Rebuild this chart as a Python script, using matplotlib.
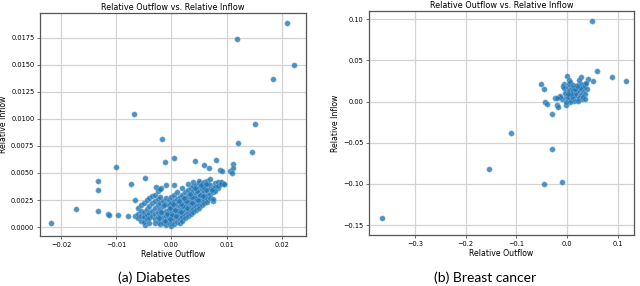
import matplotlib
matplotlib.use("Agg")
import matplotlib.pyplot as plt

# ---------------- Diabetes data (relative outflow, relative inflow) ----------------
diab_outliers_x = [0.0210, 0.0119, 0.0223, 0.0184, -0.0067, 0.0151, -0.0017, 0.0121, 0.0146,
                   0.0004, -0.0012, -0.0100, 0.0043, 0.0081, 0.0059, 0.0068, 0.0088, 0.0091,
                   0.0107, 0.0112, 0.0111, 0.0110, -0.0133, -0.0133, -0.0048, -0.0073,
                   -0.0133, -0.0173, -0.0218, -0.0114, -0.0113, -0.0097, -0.0079, -0.0066,
                   -0.0065, -0.0048, -0.0048, -0.0010, 0.0004, -0.0027, -0.0019, 0.0092, 0.0096,
                   0.0075, 0.0084]
diab_outliers_y = [0.0189, 0.0174, 0.0150, 0.0137, 0.0105, 0.0095, 0.0081, 0.0078, 0.0069,
                   0.0064, 0.0060, 0.0056, 0.0061, 0.0062, 0.0057, 0.0055, 0.0053, 0.0052,
                   0.0052, 0.0058, 0.0055, 0.0050, 0.0043, 0.0034, 0.0045, 0.0040,
                   0.0015, 0.0017, 0.0004, 0.0012, 0.0011, 0.0011, 0.0010, 0.0025,
                   0.0010, 0.0010, 0.0002, 0.0039, 0.0039, 0.0037, 0.0036, 0.0041, 0.0040,
                   0.0024, 0.0036]

diab_cluster_x = (
    [-0.0060] * 3 + [-0.0055] * 4 + [-0.0050] * 4 + [-0.0045] * 4 + [-0.0040] * 5 +
    [-0.0035] * 4 + [-0.0030] * 6 + [-0.0025] * 6 + [-0.0020] * 7 + [-0.0015] * 5 +
    [-0.0010] * 6 + [-0.0005] * 6 + [0.0000] * 7 + [0.0005] * 7 + [0.0010] * 7 +
    [0.0015] * 7 + [0.0020] * 8 + [0.0025] * 7 + [0.0030] * 8 + [0.0035] * 7 +
    [0.0040] * 8 + [0.0045] * 7 + [0.0050] * 8 + [0.0055] * 6 + [0.0060] * 6 +
    [0.0065] * 6 + [0.0070] * 5 + [0.0075] * 3 + [0.0080] * 3 + [0.0085] * 2 +
    [0.0090] * 2 + [0.0095] * 1
)
diab_cluster_y = [
    0.0012, 0.0008, 0.0018,
    0.0015, 0.0006, 0.0010, 0.0020,
    0.0022, 0.0009, 0.0005, 0.0014,
    0.0025, 0.0011, 0.0017, 0.0007,
    0.0027, 0.0019, 0.0013, 0.0008, 0.0004,
    0.0029, 0.0022, 0.0015, 0.0010,
    0.0030, 0.0024, 0.0018, 0.0012, 0.0007, 0.0004,
    0.0033, 0.0026, 0.0020, 0.0014, 0.0009, 0.0005,
    0.0035, 0.0028, 0.0022, 0.0017, 0.0011, 0.0006, 0.0003,
    0.0024, 0.0019, 0.0013, 0.0008, 0.0004,
    0.0027, 0.0021, 0.0015, 0.0010, 0.0006, 0.0002,
    0.0025, 0.0020, 0.0016, 0.0012, 0.0008, 0.0004,
    0.0022, 0.0018, 0.0013, 0.0009, 0.0005, 0.0001, 0.0028,
    0.0024, 0.0019, 0.0015, 0.0011, 0.0007, 0.0003, 0.0030,
    0.0026, 0.0021, 0.0017, 0.0013, 0.0009, 0.0005, 0.0032,
    0.0028, 0.0023, 0.0019, 0.0015, 0.0011, 0.0007, 0.0004,
    0.0030, 0.0025, 0.0021, 0.0017, 0.0013, 0.0009, 0.0006, 0.0036,
    0.0032, 0.0027, 0.0023, 0.0019, 0.0015, 0.0011, 0.0008,
    0.0034, 0.0029, 0.0025, 0.0021, 0.0017, 0.0013, 0.0010, 0.0040,
    0.0036, 0.0031, 0.0027, 0.0023, 0.0019, 0.0015, 0.0012,
    0.0038, 0.0033, 0.0029, 0.0025, 0.0021, 0.0017, 0.0014, 0.0042,
    0.0039, 0.0035, 0.0031, 0.0027, 0.0023, 0.0019, 0.0016,
    0.0041, 0.0036, 0.0032, 0.0028, 0.0024, 0.0020, 0.0018, 0.0043,
    0.0040, 0.0035, 0.0031, 0.0027, 0.0023, 0.0020,
    0.0042, 0.0037, 0.0033, 0.0029, 0.0025, 0.0022,
    0.0043, 0.0038, 0.0034, 0.0030, 0.0026, 0.0023,
    0.0044, 0.0039, 0.0035, 0.0031, 0.0027,
    0.0036, 0.0032, 0.0026,
    0.0041, 0.0037, 0.0033,
    0.0042, 0.0038,
    0.0042, 0.0040,
    0.0040,
]

# extra points filling the dense core of the diabetes cloud
diab_core_x = [-0.0018, -0.0008, 0.0002, 0.0012, 0.0022, 0.0032, 0.0042, 0.0052, 0.0062,
               -0.0013, -0.0003, 0.0007, 0.0017, 0.0027, 0.0037, 0.0047, 0.0057, 0.0067,
               -0.0022, -0.0012, -0.0002, 0.0008, 0.0018, 0.0028, 0.0038, 0.0048, 0.0058,
               0.0003, 0.0013, 0.0023, 0.0033, 0.0043, 0.0053, 0.0063, 0.0073]
diab_core_y = [0.0014, 0.0012, 0.0011, 0.0015, 0.0019, 0.0023, 0.0027, 0.0030, 0.0034,
               0.0020, 0.0018, 0.0016, 0.0021, 0.0024, 0.0028, 0.0033, 0.0037, 0.0040,
               0.0008, 0.0006, 0.0007, 0.0010, 0.0014, 0.0018, 0.0022, 0.0025, 0.0029,
               0.0021, 0.0024, 0.0027, 0.0031, 0.0036, 0.0039, 0.0040, 0.0034]

# ---------------- Breast cancer data ----------------
bc_outliers_x = [0.0487, -0.365, -0.154, -0.110, -0.029, -0.0447, -0.0105, -0.029, 0.117, 0.0895,
                 0.0586, 0.052, 0.042, -0.0513, -0.045, -0.043, -0.039, -0.019, -0.017, -0.023,
                 -0.014, 0.000, 0.003, 0.0276, -0.007, -0.003, 0.0355]
bc_outliers_y = [0.0977, -0.1414, -0.0814, -0.0377, -0.0578, -0.1004, -0.0973, -0.0148, 0.0245, 0.030,
                 0.0378, 0.0253, 0.028, 0.021, 0.0152, 0.000, -0.003, -0.004, -0.006, 0.0047,
                 0.0074, 0.0316, 0.0265, 0.0304, 0.021, -0.004, 0.0218]

bc_cluster_x = [0.000, 0.005, 0.010, 0.015, 0.020, 0.025, 0.030, 0.035, 0.012, 0.008, 0.003, -0.002,
                -0.005, -0.008, -0.006, 0.002, 0.007, 0.018, 0.022, 0.028, 0.033, 0.038, 0.032,
                0.027, 0.017, 0.014, 0.006, 0.001, 0.004, 0.009, 0.013, 0.019, 0.024, 0.029,
                0.021, 0.016, 0.011, 0.035, 0.040, 0.003, -0.003, -0.010, -0.015, -0.020, 0.006,
                0.023, 0.031, 0.026, 0.010, 0.015, 0.020, 0.012, 0.007, 0.002, 0.036]
bc_cluster_y = [0.012, 0.008, 0.010, 0.012, 0.009, 0.014, 0.016, 0.020, 0.004, 0.002, 0.003, 0.006,
                0.010, 0.019, 0.016, 0.018, 0.015, 0.017, 0.020, 0.022, 0.018, 0.023, 0.012,
                0.008, 0.005, 0.001, 0.000, 0.006, 0.013, 0.017, 0.007, 0.013, 0.004, 0.003,
                0.001, 0.009, 0.014, 0.009, 0.015, 0.021, 0.000, 0.003, 0.006, 0.005, 0.024,
                0.026, 0.006, 0.017, 0.006, 0.015, 0.019, 0.020, 0.009, 0.009, 0.003]

diab_xticks = [-0.02, -0.01, 0.00, 0.01, 0.02]
diab_yticks = [0.0, 0.0025, 0.005, 0.0075, 0.01, 0.0125, 0.015, 0.0175]
bc_xticks = [-0.3, -0.2, -0.1, 0.0, 0.1]
bc_yticks = [-0.15, -0.10, -0.05, 0.0, 0.05, 0.10]

title = "Relative Outflow vs. Relative Inflow"
xlabel = "Relative Outflow"
ylabel = "Relative Inflow"
captions = ["(a) Diabetes", "(b) Breast cancer"]

plt.rcParams['font.family'] = ['DejaVu Sans']
fig = plt.figure(figsize=(6.4, 2.86), dpi=100)

ax1 = fig.add_axes([0.0625, 0.1748, 0.4156, 0.7797])
ax2 = fig.add_axes([0.5766, 0.1783, 0.414, 0.783])

color = '#1f77b4'
for ax, xs, ys in [
    (ax1, diab_outliers_x + diab_cluster_x + diab_core_x,
     diab_outliers_y + diab_cluster_y + diab_core_y),
    (ax2, bc_outliers_x + bc_cluster_x, bc_outliers_y + bc_cluster_y),
]:
    ax.scatter(xs, ys, s=15, color=color, alpha=0.8, edgecolors='#8fb8da', linewidths=0.4, zorder=3)
    ax.grid(True, color='#d3d3d3', linewidth=0.9)
    ax.set_axisbelow(True)
    for sp in ax.spines.values():
        sp.set_color('#555555')
        sp.set_linewidth(0.9)
    ax.tick_params(labelsize=4.8, length=2.5, width=0.6, color='#555555', pad=1.5)
    ax.set_title(title, fontsize=5.9, pad=2)
    ax.set_xlabel(xlabel, fontsize=5.6, labelpad=1.5)
    ax.set_ylabel(ylabel, fontsize=5.6, labelpad=2)

ax1.set_xlim(-0.0238, 0.0244)
ax1.set_ylim(-0.00083, 0.0198)
ax1.set_xticks(diab_xticks)
ax1.set_yticks(diab_yticks)
ax1.set_xticklabels([f"{v:.2f}".replace('-', '\u2212') for v in diab_xticks])
ax1.set_yticklabels([f"{v:.4f}".replace('-', '\u2212') for v in diab_yticks])

ax2.set_xlim(-0.391, 0.132)
ax2.set_ylim(-0.162, 0.110)
ax2.set_xticks(bc_xticks)
ax2.set_yticks(bc_yticks)
ax2.set_xticklabels([f"{v:.1f}".replace('-', '\u2212') for v in bc_xticks])
ax2.set_yticklabels([f"{v:.2f}".replace('-', '\u2212') for v in bc_yticks])

fig.text(0.241, 0.028, captions[0], ha='center', va='center', fontsize=10, family='Lato')
fig.text(0.758, 0.028, captions[1], ha='center', va='center', fontsize=10, family='Lato')

fig.savefig("out.png", dpi=100)
